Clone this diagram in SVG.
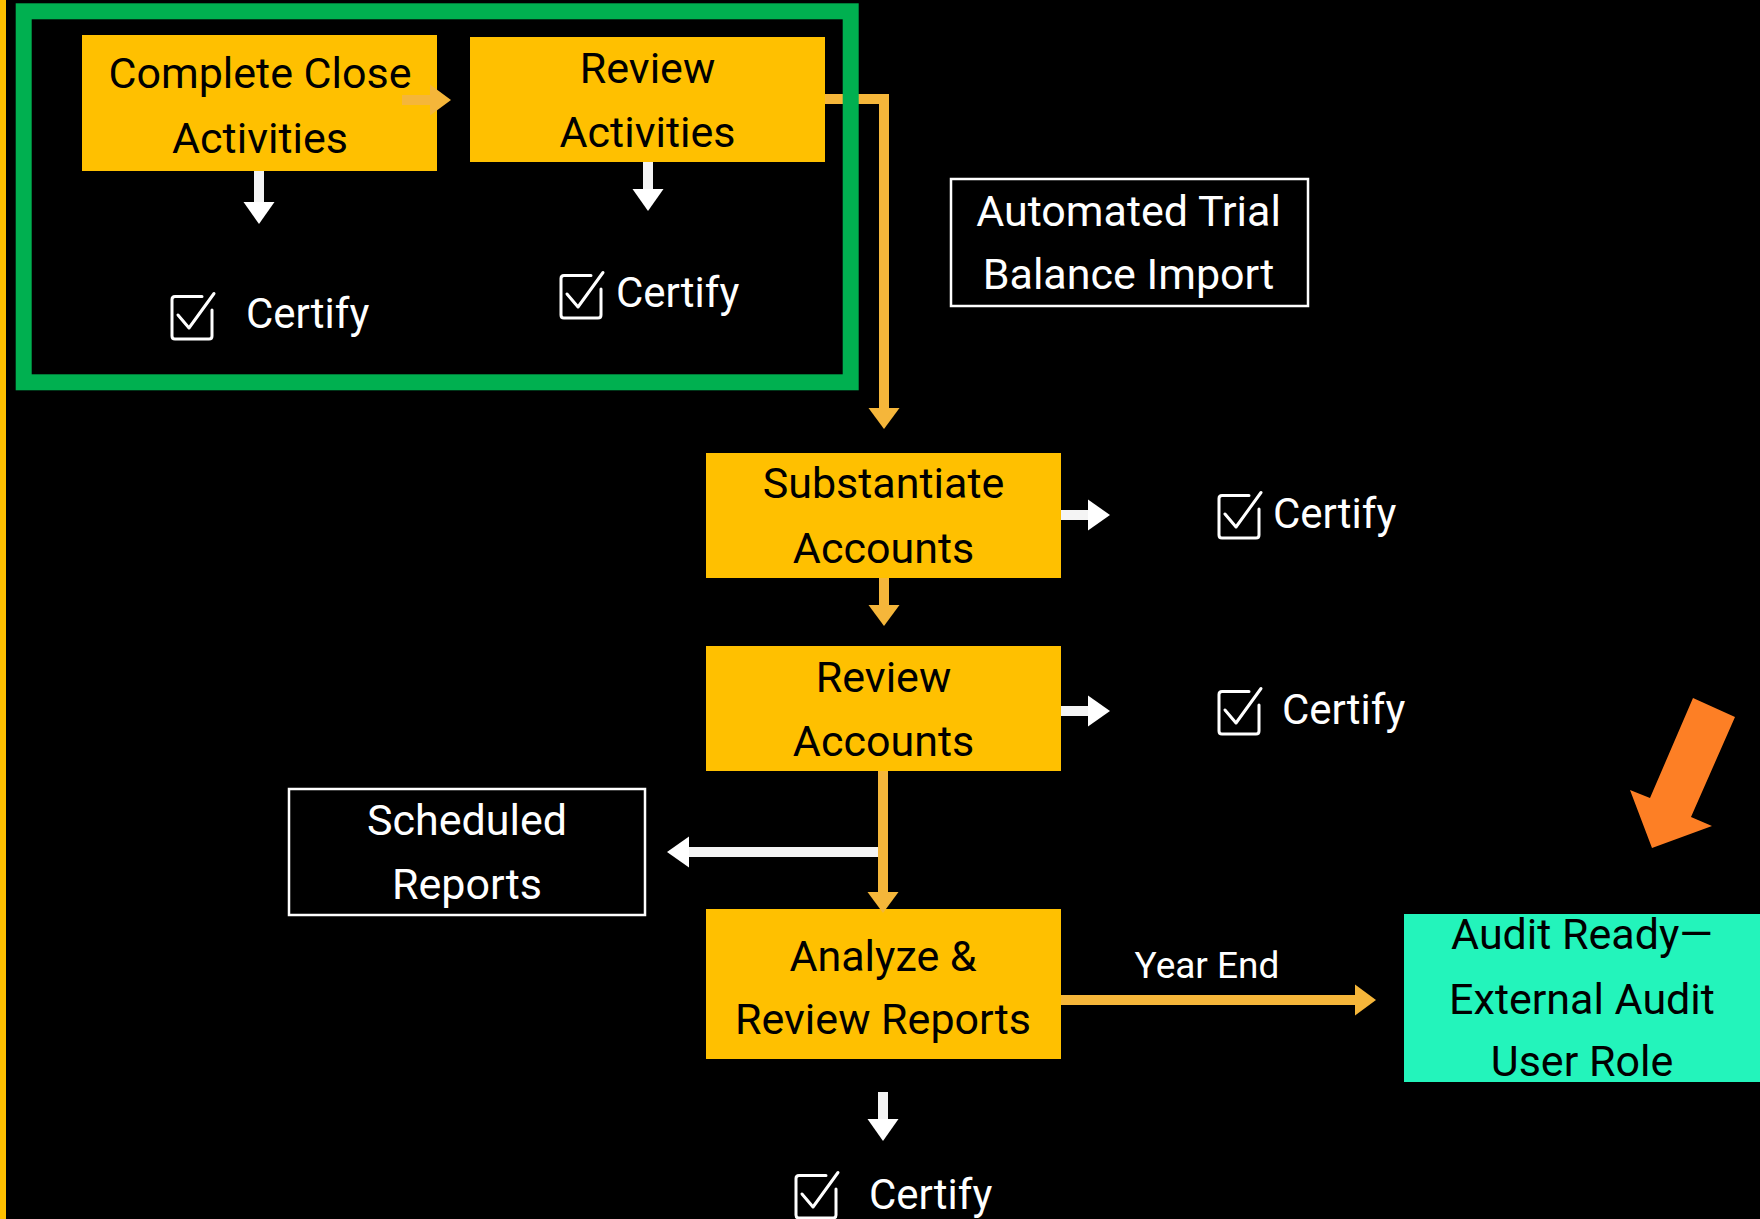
<svg xmlns="http://www.w3.org/2000/svg" xmlns:xlink="http://www.w3.org/1999/xlink" width="1760" height="1219" viewBox="0 0 1760 1219">
  <style>
    text { font-family: Roboto, "Liberation Sans", Arial, sans-serif; font-size: 43px; }
    .dark { fill: #000000; text-anchor: middle; }
    .light { fill: #ffffff; text-anchor: middle; }
    .cert { fill: #ffffff; font-size: 42px; }
    .step { fill: #FFC000; }
    .outline { fill: #000000; stroke: #ffffff; stroke-width: 2.5; }
    .flow { fill: none; stroke: #F5B63A; stroke-width: 10; }
    .side { fill: none; stroke: #F4F4F4; stroke-width: 10; }
    .icon { fill: none; stroke: #ffffff; stroke-width: 3; stroke-linecap: round; stroke-linejoin: round; }
  </style>
  <defs>
    <marker id="headFlow" markerUnits="userSpaceOnUse" markerWidth="22" markerHeight="32" refX="0" refY="16" orient="auto">
      <path d="M0,0.5 L21,16 L0,31.5 z" fill="#F5B63A"/>
    </marker>
    <marker id="headSide" markerUnits="userSpaceOnUse" markerWidth="23" markerHeight="32" refX="0" refY="16" orient="auto">
      <path d="M0,0.5 L22,16 L0,31.5 z" fill="#ffffff"/>
    </marker>
    <!-- checkbox glyph: open-cornered square with a tick -->
    <g id="checkbox">
      <path class="icon" d="M32,3.5 H5 Q2,3.5 2,6.5 V43 Q2,46 5,46 H39 Q42,46 42,43 V17"/>
      <path class="icon" d="M8,22 L19,35 L44,0.5"/>
    </g>
  </defs>

  <rect width="1760" height="1219" fill="#000000"/>
  <rect x="0" y="0" width="6" height="1219" fill="#FFC000"/>

  <!-- process steps -->
  <g id="complete-close">
    <rect class="step" x="82" y="35" width="355" height="136"/>
    <text class="dark" x="260" y="88">Complete Close</text>
    <text class="dark" x="260" y="153">Activities</text>
  </g>
  <g id="review-activities">
    <rect class="step" x="470" y="37" width="355" height="125"/>
    <text class="dark" x="647.5" y="83">Review</text>
    <text class="dark" x="647.5" y="147">Activities</text>
  </g>
  <g id="trial-balance">
    <rect class="outline" x="951" y="179" width="357" height="127"/>
    <text class="light" x="1128.5" y="226">Automated Trial</text>
    <text class="light" x="1128.5" y="289">Balance Import</text>
  </g>
  <g id="substantiate">
    <rect class="step" x="706" y="453" width="355" height="125"/>
    <text class="dark" x="883.5" y="498">Substantiate</text>
    <text class="dark" x="883.5" y="563">Accounts</text>
  </g>
  <g id="review-accounts">
    <rect class="step" x="706" y="646" width="355" height="125"/>
    <text class="dark" x="883.5" y="692">Review</text>
    <text class="dark" x="883.5" y="756">Accounts</text>
  </g>
  <g id="scheduled-reports">
    <rect class="outline" x="289" y="789" width="356" height="126"/>
    <text class="light" x="467" y="835">Scheduled</text>
    <text class="light" x="467" y="899">Reports</text>
  </g>
  <g id="analyze-reports">
    <rect class="step" x="706" y="909" width="355" height="150"/>
    <text class="dark" x="883" y="971">Analyze &amp;</text>
    <text class="dark" x="883" y="1034">Review Reports</text>
  </g>
  <g id="audit-role">
    <rect x="1404" y="914" width="356" height="168" fill="#23F4BB"/>
    <text class="dark" x="1582" y="949">Audit Ready—</text>
    <text class="dark" x="1582" y="1014">External Audit</text>
    <text class="dark" x="1582" y="1076">User Role</text>
  </g>

  <!-- certification points -->
  <g id="certify-close">
    <use xlink:href="#checkbox" href="#checkbox" transform="translate(170,293)"/>
    <text class="cert" x="246" y="328">Certify</text>
  </g>
  <g id="certify-review-activities">
    <use xlink:href="#checkbox" href="#checkbox" transform="translate(559,272)"/>
    <text class="cert" x="616" y="307">Certify</text>
  </g>
  <g id="certify-substantiate">
    <use xlink:href="#checkbox" href="#checkbox" transform="translate(1217,492)"/>
    <text class="cert" x="1273" y="528">Certify</text>
  </g>
  <g id="certify-review-accounts">
    <use xlink:href="#checkbox" href="#checkbox" transform="translate(1217,688)"/>
    <text class="cert" x="1282" y="724">Certify</text>
  </g>
  <g id="certify-reports">
    <use xlink:href="#checkbox" href="#checkbox" transform="translate(794,1172)"/>
    <text class="cert" x="869" y="1209">Certify</text>
  </g>

  <!-- connectors -->
  <g id="connectors">
    <line class="flow" x1="402" y1="100" x2="430" y2="100" marker-end="url(#headFlow)"/>
    <path class="flow" d="M825,99 H884 V408" marker-end="url(#headFlow)"/>
    <line class="flow" x1="884" y1="578" x2="884" y2="605" marker-end="url(#headFlow)"/>
    <line class="flow" x1="883" y1="771" x2="883" y2="892" marker-end="url(#headFlow)"/>
    <line class="flow" x1="1061" y1="1000" x2="1355" y2="1000" marker-end="url(#headFlow)"/>

    <line class="side" x1="259" y1="171" x2="259" y2="202" marker-end="url(#headSide)"/>
    <line class="side" x1="648" y1="162" x2="648" y2="189" marker-end="url(#headSide)"/>
    <line class="side" x1="1061" y1="515" x2="1088" y2="515" marker-end="url(#headSide)"/>
    <line class="side" x1="1061" y1="711" x2="1088" y2="711" marker-end="url(#headSide)"/>
    <line class="side" x1="878" y1="852" x2="689" y2="852" marker-end="url(#headSide)"/>
    <line class="side" x1="883" y1="1092" x2="883" y2="1119" marker-end="url(#headSide)"/>

    <text class="light" x="1207" y="978" style="font-size:37px">Year End</text>
  </g>

  <!-- highlight frame around the close/review activity pair -->
  <g id="activity-frame">
    <rect x="23.7" y="11.3" width="827" height="371" fill="none" stroke="#00B050" stroke-width="16"/>
  </g>

  <!-- call-out pointer toward the audit role -->
  <g id="pointer">
    <polygon points="1693,698 1735,717 1691,817 1712,826 1652,848 1630,790 1650,798" fill="#FD7F25"/>
  </g>
</svg>
